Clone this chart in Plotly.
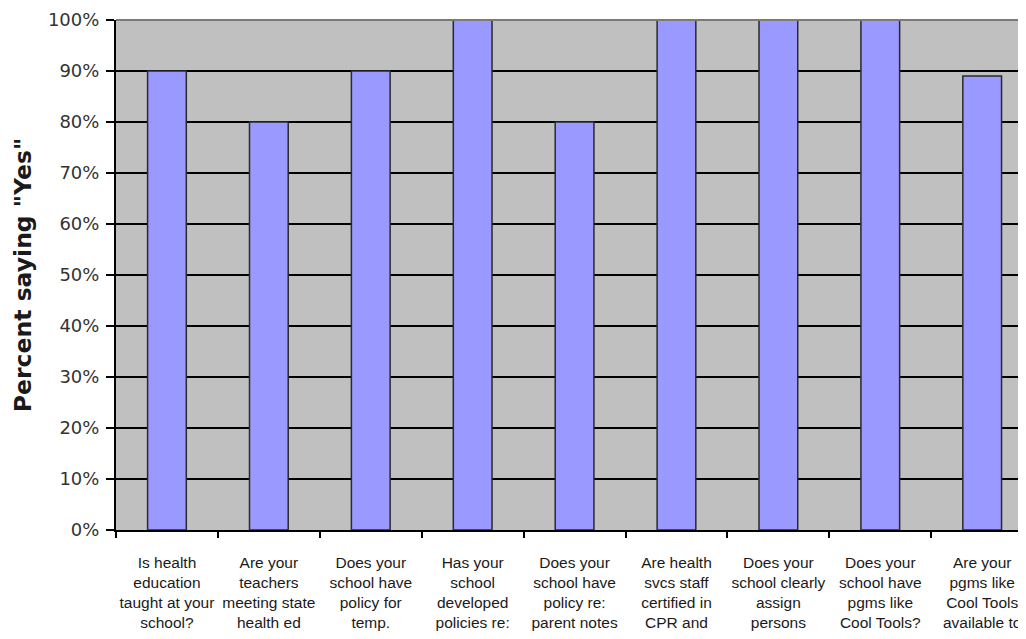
import plotly.graph_objects as go

categories = [
    "Is health<br>education<br>taught at your<br>school?",
    "Are your<br>teachers<br>meeting state<br>health ed",
    "Does your<br>school have<br>policy for<br>temp.",
    "Has your<br>school<br>developed<br>policies re:",
    "Does your<br>school have<br>policy re:<br>parent notes",
    "Are health<br>svcs staff<br>certified in<br>CPR and",
    "Does your<br>school clearly<br>assign<br>persons",
    "Does your<br>school have<br>pgms like<br>Cool Tools?",
    "Are your<br>pgms like<br>Cool Tools<br>available to",
]
values = [90, 80, 90, 100, 80, 100, 100, 100, 89]
y_ticks = [0, 10, 20, 30, 40, 50, 60, 70, 80, 90, 100]
y_title = 'Percent saying "Yes"'

fig = go.Figure(
    go.Bar(
        x=categories,
        y=values,
        width=0.38,
        marker=dict(color="#9999FF", line=dict(color="#2a2a2a", width=1.5)),
    )
)

fig.update_layout(
    width=1018,
    height=623,
    margin=dict(l=108, r=0, t=12, b=101),
    paper_bgcolor="white",
    plot_bgcolor="#C0C0C0",
    showlegend=False,
    font=dict(family="Liberation Sans, Arial, sans-serif", color="#1a1a1a"),
    shapes=[
        dict(type="line", xref="paper", yref="paper", x0=0, x1=1, y0=1, y1=1,
             line=dict(color="#7a7a7a", width=2), layer="above"),
    ],
)

fig.update_xaxes(
    type="category",
    range=[-0.5, 8.43],
    automargin=False,
    showgrid=False,
    showline=True,
    linecolor="black",
    linewidth=2,
    ticks="outside",
    tickson="boundaries",
    ticklen=6,
    tickwidth=2,
    tickcolor="black",
    tickfont=dict(size=15.5, color="#1a1a1a", family="Liberation Sans, Arial, sans-serif"),
    ticklabelstandoff=17,
    tickangle=0,
)

fig.update_yaxes(
    range=[0, 100],
    automargin=False,
    tickvals=y_ticks,
    ticktext=[f"{v}%" for v in y_ticks],
    showgrid=True,
    gridcolor="black",
    gridwidth=2,
    zeroline=False,
    showline=True,
    linecolor="black",
    linewidth=2,
    ticks="outside",
    ticklen=8,
    tickwidth=2,
    tickcolor="black",
    tickfont=dict(size=18, color="#333333", family="DejaVu Sans, sans-serif"),
    ticklabelstandoff=3,
    title=dict(
        text="<b>" + y_title + "</b>",
        font=dict(size=23.5, color="#1a1a1a", family="DejaVu Sans, sans-serif"),
        standoff=10,
    ),
)

fig.write_html("out.html")
